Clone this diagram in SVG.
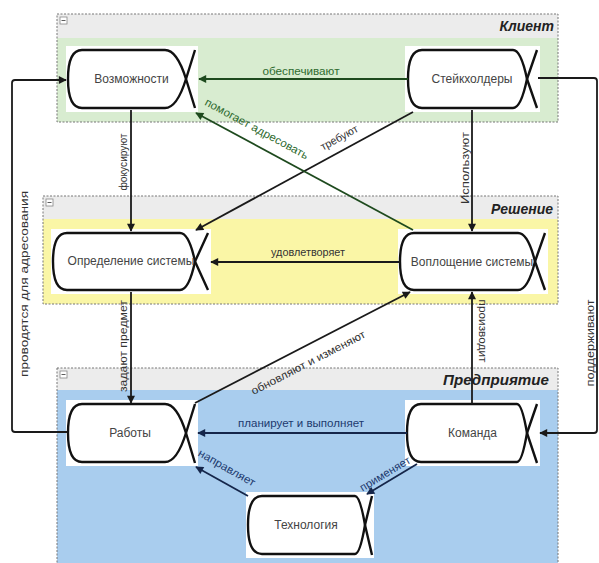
<svg xmlns="http://www.w3.org/2000/svg" width="599" height="563" viewBox="0 0 599 563">
<defs>
<marker id="ahk" viewBox="0 0 10 10" refX="9" refY="5" markerWidth="10" markerHeight="8" markerUnits="userSpaceOnUse" orient="auto"><path d="M0,0 L10,5 L0,10 z" fill="#1a1a1a"/></marker>
<marker id="ahg" viewBox="0 0 10 10" refX="9" refY="5" markerWidth="10" markerHeight="8" markerUnits="userSpaceOnUse" orient="auto"><path d="M0,0 L10,5 L0,10 z" fill="#1e4a1e"/></marker>
<marker id="ahb" viewBox="0 0 10 10" refX="9" refY="5" markerWidth="10" markerHeight="8" markerUnits="userSpaceOnUse" orient="auto"><path d="M0,0 L10,5 L0,10 z" fill="#15264a"/></marker>
</defs>
<style>
.frame{fill:none;stroke:#777;stroke-width:1;stroke-dasharray:2,1.5}
.hdr{fill:#ececec}
.minus{fill:#fff;stroke:#888;stroke-width:0.8}
.title{font-family:"Liberation Sans",Arial,sans-serif;font-size:14px;font-weight:bold;font-style:italic;fill:#222;text-anchor:end}
.nbg{fill:#fff}
.nshape{fill:none;stroke:#111;stroke-width:2.4;stroke-linejoin:round}
.ntext{font-family:"Liberation Sans",Arial,sans-serif;font-size:12px;fill:#444;text-anchor:middle;dominant-baseline:middle}
.ln{fill:none;stroke:#1a1a1a;stroke-width:1.8}
.lg{stroke:#1e4a1e}
.lb{stroke:#15264a}
.lbl{font-family:"Liberation Sans",Arial,sans-serif;font-size:11px;fill:#333;text-anchor:middle}
.tg{fill:#2f6b2f}
.tb{fill:#1d3a6e}
</style>
<rect width="599" height="563" fill="#fff"/>
<g id="region-client">
<rect x="57" y="14" width="501" height="108" fill="#d8ecd0"/>
<rect class="hdr" x="57" y="14" width="501" height="24"/>
<rect class="frame" x="57" y="14" width="501" height="108"/>
<rect class="minus" x="60" y="17" width="7" height="7"/><line x1="61.5" y1="20.5" x2="65.5" y2="20.5" stroke="#333" stroke-width="0.8"/>
<text class="title" x="554" y="31">Клиент</text>
</g>
<g id="region-solution">
<rect x="43" y="196" width="515" height="108" fill="#faf6a6"/>
<rect class="hdr" x="43" y="196" width="515" height="23"/>
<rect class="frame" x="43" y="196" width="515" height="108"/>
<rect class="minus" x="46" y="199" width="7" height="7"/><line x1="47.5" y1="202.5" x2="51.5" y2="202.5" stroke="#333" stroke-width="0.8"/>
<text class="title" x="553" y="214">Решение</text>
</g>
<g id="region-enterprise">
<rect x="57" y="368" width="501" height="195" fill="#a9cdee"/>
<rect class="hdr" x="57" y="368" width="501" height="22"/>
<rect class="frame" x="57" y="368" width="501" height="200"/>
<rect class="minus" x="60" y="371" width="7" height="7"/><line x1="61.5" y1="374.5" x2="65.5" y2="374.5" stroke="#333" stroke-width="0.8"/>
<text class="title" x="549" y="385" textLength="106" lengthAdjust="spacingAndGlyphs">Предприятие</text>
</g>
<g id="node-vozmozhnosti">
<rect class="nbg" x="66" y="46" width="132" height="66"/>
<path class="nshape" d="M165,50 H82 Q68,50 68,79 Q68,108 82,108 H165 Q177,108 186,79 L195,50"/>
<path class="nshape" d="M165,50 Q177,50 186,79 L195,108"/>
<text class="ntext" x="131.5" y="80">Возможности</text>
</g>
<g id="node-steikholdery">
<rect class="nbg" x="405" y="46" width="135" height="66"/>
<path class="nshape" d="M513,50 H422 Q408,50 408,79 Q408,108 422,108 H513 Q521,108 527,79 L537,50"/>
<path class="nshape" d="M513,50 Q521,50 527,79 L537,108"/>
<text class="ntext" x="472" y="80">Стейкхолдеры</text>
</g>
<g id="node-opredelenie">
<rect class="nbg" x="51" y="229" width="160" height="65"/>
<path class="nshape" d="M180,233 H67 Q53,233 53,261.5 Q53,290 67,290 H180 Q189,290 195,261.5 L208,233"/>
<path class="nshape" d="M180,233 Q189,233 195,261.5 L208,290"/>
<text class="ntext" x="131" y="262">Определение системы</text>
</g>
<g id="node-voploshchenie">
<rect class="nbg" x="398" y="229" width="150" height="65"/>
<path class="nshape" d="M518,233 H414 Q400,233 400,261.5 Q400,290 414,290 H518 Q528,290 535,261.5 L545,233"/>
<path class="nshape" d="M518,233 Q528,233 535,261.5 L545,290"/>
<text class="ntext" x="472" y="263">Воплощение системы</text>
</g>
<g id="node-raboty">
<rect class="nbg" x="66" y="400" width="132" height="66"/>
<path class="nshape" d="M165,404 H82 Q68,404 68,433 Q68,462 82,462 H165 Q177,462 186,433 L195,404"/>
<path class="nshape" d="M165,404 Q177,404 186,433 L195,463"/>
<text class="ntext" x="130" y="434">Работы</text>
</g>
<g id="node-komanda">
<rect class="nbg" x="405" y="400" width="135" height="66"/>
<path class="nshape" d="M517,404 H421 Q407,404 407,433 Q407,462 421,462 H517 Q522,462 527,433 L537,404"/>
<path class="nshape" d="M517,404 Q522,404 527,433 L537,463"/>
<text class="ntext" x="472.5" y="434">Команда</text>
</g>
<g id="node-tekhnologiya">
<rect class="nbg" x="246" y="492" width="128" height="66"/>
<path class="nshape" d="M355,496 H262 Q248,496 248,525 Q248,554 262,554 H355 Q360,554 365,525 L372,496"/>
<path class="nshape" d="M355,496 Q360,496 365,525 L372,555"/>
<text class="ntext" x="306" y="526">Технология</text>
</g>
<g id="connectors">
<path class="ln lg" d="M408,79 H199" marker-end="url(#ahg)"/>
<text class="lbl tg" x="301" y="75" textLength="77" lengthAdjust="spacingAndGlyphs">обеспечивают</text>
<path class="ln" d="M67,432 H15 Q12,432 12,429 V83 Q12,80 15,80 H66" marker-end="url(#ahk)"/>
<text class="lbl" transform="translate(27.5,284) rotate(-90)" textLength="186" lengthAdjust="spacingAndGlyphs">проводятся для адресования</text>
<path class="ln" d="M131,110 V231" marker-end="url(#ahk)"/>
<text class="lbl" transform="translate(127,162) rotate(-90)" textLength="57" lengthAdjust="spacingAndGlyphs">фокусируют</text>
<path class="ln" d="M413,112 L196,230" marker-end="url(#ahk)"/>
<text class="lbl" transform="translate(341,141) rotate(-28.4)" textLength="41" lengthAdjust="spacingAndGlyphs">требуют</text>
<path class="ln lg" d="M413,230 L196,113" marker-end="url(#ahg)"/>
<text class="lbl tg" transform="translate(255,132) rotate(28.4)" textLength="116" lengthAdjust="spacingAndGlyphs">помогает адресовать</text>
<path class="ln" d="M472,110 V231" marker-end="url(#ahk)"/>
<text class="lbl" transform="translate(469,168) rotate(-90)" textLength="72" lengthAdjust="spacingAndGlyphs">Используют</text>
<path class="ln" d="M400,262 H211" marker-end="url(#ahk)"/>
<text class="lbl" x="308" y="256" textLength="74" lengthAdjust="spacingAndGlyphs">удовлетворяет</text>
<path class="ln" d="M131,292 V403" marker-end="url(#ahk)"/>
<text class="lbl" transform="translate(127,346) rotate(-90)" textLength="92" lengthAdjust="spacingAndGlyphs">задают предмет</text>
<path class="ln" d="M472,404 V292" marker-end="url(#ahk)"/>
<text class="lbl" transform="translate(478.5,331) rotate(90)" textLength="63" lengthAdjust="spacingAndGlyphs">производит</text>
<path class="ln" d="M195,403 L410,292" marker-end="url(#ahk)"/>
<text class="lbl" transform="translate(310,366) rotate(-27.3)" textLength="127" lengthAdjust="spacingAndGlyphs">обновляют и изменяют</text>
<path class="ln lb" d="M407,433 H198" marker-end="url(#ahb)"/>
<text class="lbl tb" x="301" y="427" textLength="126" lengthAdjust="spacingAndGlyphs">планирует и выполняет</text>
<path class="ln" d="M538,78 H594 Q597,78 597,81 V430 Q597,433 594,433 H540" marker-end="url(#ahk)"/>
<text class="lbl" transform="translate(594,343) rotate(-90)" textLength="87" lengthAdjust="spacingAndGlyphs">поддерживают</text>
<path class="ln lb" d="M248,496 L196,467" marker-end="url(#ahb)"/>
<text class="lbl tb" transform="translate(225,471) rotate(29.5)" textLength="64" lengthAdjust="spacingAndGlyphs">направляет</text>
<path class="ln lb" d="M417,464 L367,494" marker-end="url(#ahb)"/>
<text class="lbl tb" transform="translate(387,477) rotate(-31)" textLength="57" lengthAdjust="spacingAndGlyphs">применяет</text>
</g>
</svg>
